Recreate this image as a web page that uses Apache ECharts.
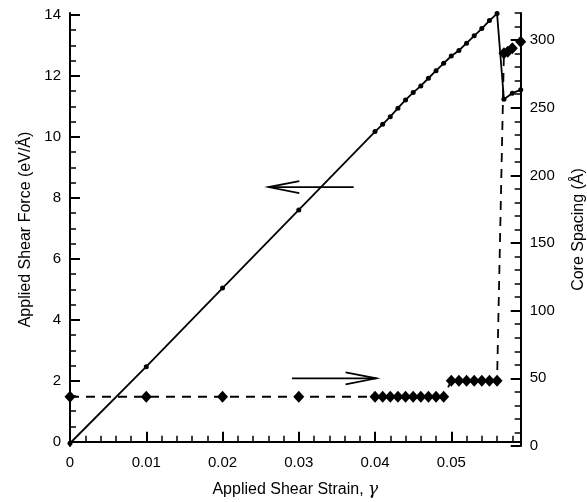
<!DOCTYPE html>
<html>
<head>
<meta charset="utf-8">
<script src="https://cdn.jsdelivr.net/npm/echarts@6/dist/echarts.min.js"></script>
<style>html,body{margin:0;padding:0;background:#fff;}#c{width:587px;height:502px;}</style>
</head>
<body>
<div id="c"></div>
<script>
// ---- data ----
const forceStrain = [0, 0.01, 0.02, 0.03, 0.040, 0.041, 0.042, 0.043, 0.044, 0.045, 0.046, 0.047, 0.048, 0.049, 0.050, 0.051, 0.052, 0.053, 0.054, 0.055, 0.056, 0.0569, 0.0580, 0.0591];
const forceValues = [-0.05, 2.46, 5.04, 7.60, 10.17, 10.41, 10.66, 10.94, 11.21, 11.45, 11.67, 11.92, 12.17, 12.41, 12.65, 12.83, 13.07, 13.31, 13.55, 13.81, 14.04, 11.23, 11.43, 11.54];

const spacingStrain = [0, 0.01, 0.02, 0.03, 0.040, 0.041, 0.042, 0.043, 0.044, 0.045, 0.046, 0.047, 0.048, 0.049, 0.050, 0.051, 0.052, 0.053, 0.054, 0.055, 0.056, 0.0569, 0.0574, 0.0580, 0.0591];
const spacingValues = [36.4, 36.4, 36.4, 36.4, 36.4, 36.4, 36.4, 36.4, 36.4, 36.4, 36.4, 36.4, 36.4, 36.4, 48.3, 48.3, 48.3, 48.3, 48.3, 48.3, 48.3, 290.2, 291.4, 293.9, 298.8];

// ---- ticks ----
const xMajorTicks = [0, 0.01, 0.02, 0.03, 0.04, 0.05];
const xMinorTicks = [0.002, 0.004, 0.006, 0.008, 0.012, 0.014, 0.016, 0.018, 0.022, 0.024, 0.026, 0.028, 0.032, 0.034, 0.036, 0.038, 0.042, 0.044, 0.046, 0.048, 0.052, 0.054, 0.056, 0.058];
const leftMajorTicks = [0, 2, 4, 6, 8, 10, 12, 14];
const leftMinorTicks = [0.5, 1, 1.5, 2.5, 3, 3.5, 4.5, 5, 5.5, 6.5, 7, 7.5, 8.5, 9, 9.5, 10.5, 11, 11.5, 12.5, 13, 13.5];
const rightMajorTicks = [0, 50, 100, 150, 200, 250, 300];
const rightMinorTicks = [10, 20, 30, 40, 60, 70, 80, 90, 110, 120, 130, 140, 160, 170, 180, 190, 210, 220, 230, 240, 260, 270, 280, 290, 310, 320];

// ---- annotation arrows (data coordinates) ----
const leftArrow = { from: [0.0372, 8.35], to: [0.0260, 8.35] };   // points to left axis
const rightArrow = { from: [0.0291, 50.0], to: [0.0402, 50.0] };  // points to right axis

const FONT = 'Liberation Sans, Arial, Helvetica, sans-serif';
const X_MIN = 0, X_MAX = 0.0591, L_MIN = -0.14, L_MAX = 14.06, R_MIN = 0, R_MAX = 320;

const chart = echarts.init(document.getElementById('c'), null, { renderer: 'canvas' });

function majorAxisCommon(ticks) {
  return {
    axisLine: { show: true, lineStyle: { color: '#000', width: 2 } },
    axisTick: { show: true, inside: true, length: 10, customValues: ticks, lineStyle: { color: '#000', width: 2 } },
    axisLabel: { show: true, customValues: ticks, color: '#000', fontSize: 15, fontFamily: FONT, margin: 9 },
    splitLine: { show: false }
  };
}
function minorAxisCommon(ticks) {
  return {
    axisLine: { show: false },
    axisTick: { show: true, inside: true, length: 6, customValues: ticks, lineStyle: { color: '#000', width: 1.5 } },
    axisLabel: { show: false },
    splitLine: { show: false }
  };
}

const option = {
  animation: false,
  backgroundColor: '#fff',
  grid: { left: 70, top: 13, width: 450.7, height: 433, containLabel: false, outerBoundsMode: 'none' },
  xAxis: [
    Object.assign({
      type: 'value', min: X_MIN, max: X_MAX, position: 'bottom',
      name: '{t|Applied Shear Strain, }{g|γ}', nameLocation: 'middle', nameGap: 35,
      nameTextStyle: { rich: { t: { fontSize: 16, fontFamily: FONT, color: '#000' }, g: { fontSize: 17, fontFamily: 'DejaVu Serif, serif', fontStyle: 'italic', color: '#000' } } }
    }, majorAxisCommon(xMajorTicks)),
    Object.assign({ type: 'value', min: X_MIN, max: X_MAX, position: 'bottom', offset: 0 }, minorAxisCommon(xMinorTicks))
  ],
  yAxis: [
    Object.assign({
      type: 'value', min: L_MIN, max: L_MAX, position: 'left',
      name: 'Applied Shear Force (eV/Å)', nameLocation: 'middle', nameGap: 32,
      nameTextStyle: { fontSize: 16, fontFamily: FONT, color: '#000' }
    }, majorAxisCommon(leftMajorTicks)),
    Object.assign({ type: 'value', min: L_MIN, max: L_MAX, position: 'left', offset: 0 }, minorAxisCommon(leftMinorTicks)),
    Object.assign({
      type: 'value', min: R_MIN, max: R_MAX, position: 'right', offset: 0,
      name: 'Core Spacing (Å)', nameLocation: 'middle', nameGap: 50,
      nameTextStyle: { fontSize: 16, fontFamily: FONT, color: '#000' }
    }, majorAxisCommon(rightMajorTicks)),
    Object.assign({ type: 'value', min: R_MIN, max: R_MAX, position: 'right', offset: 0 }, minorAxisCommon(rightMinorTicks))
  ],
  series: [
    {
      name: 'Applied Shear Force', type: 'line', xAxisIndex: 0, yAxisIndex: 0, clip: false,
      data: forceStrain.map((x, i) => [x, forceValues[i]]),
      symbol: 'circle', symbolSize: 5, showAllSymbol: true,
      lineStyle: { color: '#000', width: 1.8 },
      itemStyle: { color: '#000' }, z: 3
    },
    {
      name: 'Core Spacing', type: 'line', xAxisIndex: 0, yAxisIndex: 2, clip: false,
      data: spacingStrain.map((x, i) => [x, spacingValues[i]]),
      symbol: 'diamond', symbolSize: [11, 12], showAllSymbol: true,
      lineStyle: { color: '#000', width: 1.8, type: [9, 7] },
      itemStyle: { color: '#000' }, z: 2
    }
  ]
};
chart.setOption(option);

function arrowGraphic(arrow, yAxisIndex) {
  const p0 = chart.convertToPixel({ xAxisIndex: 0, yAxisIndex: yAxisIndex }, arrow.from);
  const p1 = chart.convertToPixel({ xAxisIndex: 0, yAxisIndex: yAxisIndex }, arrow.to);
  const dx = p1[0] - p0[0], dy = p1[1] - p0[1];
  const len = Math.sqrt(dx * dx + dy * dy);
  const ux = dx / len, uy = dy / len;
  const headLen = 31, headHalf = 6;
  const bx = p1[0] - ux * headLen, by = p1[1] - uy * headLen;
  const style = { stroke: '#000', lineWidth: 1.6, fill: null };
  return [
    { type: 'polyline', shape: { points: [p0, p1] }, style: style, z: 10 },
    { type: 'polyline', shape: { points: [[bx - uy * headHalf, by + ux * headHalf], p1, [bx + uy * headHalf, by - ux * headHalf]] }, style: style, z: 10 }
  ];
}
chart.setOption({ graphic: arrowGraphic(leftArrow, 0).concat(arrowGraphic(rightArrow, 2)) });
</script>
</body>
</html>
